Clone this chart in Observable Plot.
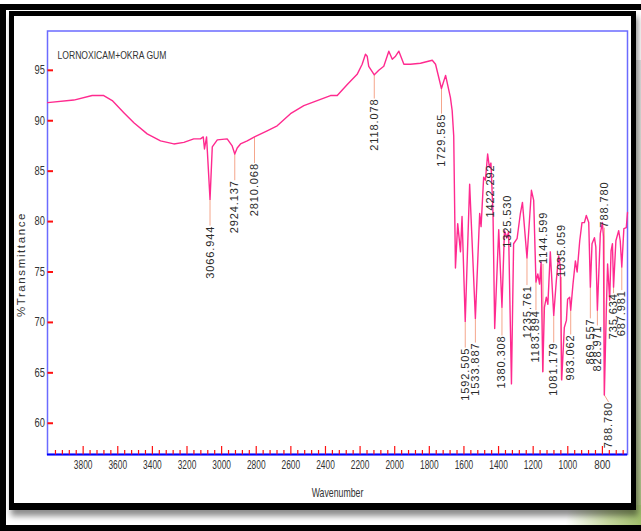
<!DOCTYPE html>
<html><head><meta charset="utf-8">
<script src="https://cdn.jsdelivr.net/npm/d3@7"></script>
<script src="https://cdn.jsdelivr.net/npm/@observablehq/plot@0.6"></script>
<style>
html,body{margin:0;padding:0;background:#fff;}
body{width:641px;height:531px;position:relative;overflow:hidden;}
#chart{position:absolute;left:0;top:0;}
.deco{position:absolute;pointer-events:none;}
</style></head><body>
<div id="chart"></div>
<div class="deco" style="left:636px;top:60px;width:5px;height:465px;background:linear-gradient(#e4e4e4,#c9d2b8 70%,#a9c07a);"></div>
<div class="deco" style="left:560px;top:505px;width:81px;height:20px;background:linear-gradient(100deg,rgba(255,255,255,0) 10%,#c7d9a0 60%,#9fbd6a);"></div>
<div class="deco" style="left:0;top:4px;width:641px;height:6px;background:#000"></div>
<div class="deco" style="left:0;top:4px;width:6px;height:527px;background:#000"></div>
<div class="deco" style="left:0;top:525px;width:641px;height:6px;background:#000"></div>
<div class="deco" style="left:9px;top:11px;width:627px;height:499px;box-sizing:border-box;border:5px solid #000;border-bottom-width:7px;box-shadow:2px 6px 6px rgba(0,0,0,0.45);"></div>
<script>
// ---- spectrum (wavenumber cm-1, %T) ----
const wavenumber = [
  4005, 3854, 3748, 3681, 3632, 3565, 3507, 3430, 3353, 3276, 3218, 3161, 3122, 3106, 3099, 3087,
  3067, 3054, 3025, 2968, 2939, 2924, 2910, 2891, 2852, 2810, 2737, 2679, 2602, 2525, 2448, 2371,
  2332, 2274, 2217, 2188, 2169, 2159, 2150, 2118, 2092, 2063, 2034, 2014, 1995, 1976, 1947, 1909,
  1851, 1783, 1764, 1730, 1706,
  1678, 1668, 1659, 1649, 1636, 1620, 1611, 1592.5, 1567, 1533.9, 1509, 1501, 1486, 1476, 1463, 1453,
  1444, 1432, 1422.3, 1399, 1380.3, 1366, 1351, 1342, 1325.5, 1313, 1293, 1274, 1262, 1235.8, 1210, 1197,
  1183.9, 1173, 1163, 1154, 1144.6, 1135, 1124, 1115, 1101, 1081.2, 1066, 1053, 1043, 1035.1, 1020, 1008,
  1001, 989, 983.1, 970, 956, 946, 931, 918, 904, 893, 879, 869.6, 860, 846, 838, 829.0,
  812, 800, 794, 788.8, 777, 770, 758, 750, 742, 735.6, 722, 706, 697, 688.0, 676, 662, 655
];
const transmittance = [
  91.8, 92.05, 92.5, 92.5, 92.0, 90.8, 89.8, 88.7, 88.0, 87.7, 87.85, 88.2, 88.2, 88.4, 87.2, 88.4,
  82.2, 87.4, 88.1, 88.2, 87.5, 86.7, 87.3, 87.7, 88.0, 88.4, 89.0, 89.5, 90.7, 91.5, 92.0, 92.5,
  92.5, 93.6, 94.6, 95.6, 96.6, 96.4, 95.4, 94.55, 95.0, 95.4, 96.9, 96.1, 96.4, 96.9, 95.6, 95.6,
  95.7, 96.0, 95.6, 93.2, 94.5,
  92.3, 91.0, 88.5, 75.4, 79.8, 77.0, 80.5, 70.1, 83.7, 70.4, 80.8, 79.5, 84.4, 84.1, 86.7, 85.4,
  85.8, 80.8, 69.4, 79.2, 71.5, 79.1, 78.4, 79.0, 63.9, 77.8, 78.3, 80.8, 81.9, 76.4, 83.1, 82.1,
  74.0, 74.8, 73.8, 76.0, 65.1, 71.5, 72.5, 71.8, 77.0, 70.7, 74.2, 76.6, 75.5, 64.3, 69.5, 70.2,
  72.3, 72.5, 71.2, 73.8, 76.1, 75.0, 78.1, 79.9, 79.9, 80.6, 79.9, 73.5, 77.8, 78.4, 77.5, 71.2,
  78.8, 79.9, 78.5, 62.8, 71.5, 75.8, 72.2, 77.1, 77.8, 73.5, 78.1, 79.1, 78.1, 75.5, 79.3, 79.4, 80.9
];

// ---- peak labels written below their peak ----
const belowText   = ["3066.944","2924.137","2810.068","2118.078","1729.585","1592.505","1533.887","1380.308","1235.761","1183.894","1081.179","983.062","869.557","828.971","735.634","687.981","788.780"];
const belowLineWn = [3067, 2924, 2810, 2118, 1729.6, 1592.5, 1533.9, 1380.3, 1235.8, 1183.9, 1081.2, 983.1, 869.6, 829.0, 735.6, 688.0, 788.8];
const belowTextWn = [3067, 2924, 2810, 2118, 1729.6, 1592.5, 1533.9, 1380.3, 1235.8, 1183.9, 1081.2, 983.1, 869.6, 829.0, 735.6, 688.0, 764];
const belowPeakT  = [82.2, 86.7, 88.4, 94.55, 93.2, 70.1, 70.4, 71.5, 76.4, 74.0, 70.7, 71.2, 73.5, 71.2, 73.5, 75.5, 62.8];
const belowLabelT = [79.6, 84.1, 85.8, 92.2, 90.7, 67.5, 68.0, 68.7, 73.7, 71.2, 68.0, 68.8, 70.4, 69.7, 72.9, 73.2, 62.1];

// ---- peak labels written above ----
const aboveText   = ["1422.292","1325.530","1144.599","1035.059","788.780"];
const aboveWn     = [1446, 1348, 1143, 1038, 789];
const aboveLabelT = [80.4, 77.4, 75.8, 74.5, 79.4];
const abovePeakT  = [null, null, 65.1, 64.3, 62.8];

// ---- axes ----
const xDomain = [4006, 655];
const yDomain = [56.9, 98.9];
const xTickLabels = [3800, 3600, 3400, 3200, 3000, 2800, 2600, 2400, 2200, 2000, 1800, 1600, 1400, 1200, 1000, 800];
const xMinorTicks = d3.range(680, 4000, 40).filter(v => v % 200 !== 0);
const yTickLabels = [60, 65, 70, 75, 80, 85, 90, 95];

const spectrum = wavenumber.map((w, i) => ({w, t: transmittance[i]}));
const below = belowText.map((s, i) => ({s, lw: belowLineWn[i], tw: belowTextWn[i], p: belowPeakT[i], l: belowLabelT[i]}));
const above = aboveText.map((s, i) => ({s, w: aboveWn[i], l: aboveLabelT[i], p: abovePeakT[i]}));

const tickUp = len => ({draw(ctx){ ctx.moveTo(0, 0); ctx.lineTo(0, -len); }});
const tickRight = len => ({draw(ctx){ ctx.moveTo(0, 0); ctx.lineTo(len, 0); }});

const regular = "'Liberation Sans',Arial,sans-serif";
const red = "#ff1010";
const salmon = "#f5a68c";
const pink = "#ff2a8f";

const chart = Plot.plot({
  width: 641,
  height: 531,
  marginLeft: 47,
  marginRight: 14,
  marginTop: 30.5,
  marginBottom: 77,
  style: {fontFamily: regular, fontSize: "12px", color: "#333", background: "transparent"},
  x: {domain: xDomain, label: null},
  y: {domain: yDomain, label: null},
  marks: [
    Plot.frame({stroke: "#6b6bff", strokeWidth: 1.5}),
    Plot.ruleY([yDomain[0]], {stroke: "#0000ff", strokeWidth: 2}),
    Plot.dot(xMinorTicks, {x: d => d, y: yDomain[0], symbol: tickUp(4.5), fill: "none", stroke: red, strokeWidth: 1.2}),
    Plot.dot(xTickLabels, {x: d => d, y: yDomain[0], symbol: tickUp(8.5), fill: "none", stroke: red, strokeWidth: 1.2}),
    Plot.dot(yTickLabels, {x: xDomain[0], y: d => d, symbol: tickRight(5.5), fill: "none", stroke: red, strokeWidth: 2}),
    Plot.axisX({ticks: xTickLabels, tickSize: 0, tickPadding: 6, fontFamily: regular, fontSize: 12.5, fill: "#333", label: null, tickFormat: d => String(d)}),
    Plot.axisY({ticks: yTickLabels, tickSize: 0, tickPadding: 2.5, fontFamily: regular, fontSize: 12, fill: "#333", label: null}),
    Plot.link(below, {x1: "lw", y1: "p", x2: "tw", y2: "l", stroke: salmon, strokeWidth: 1}),
    Plot.link(above.filter(d => d.p != null), {x1: "w", y1: "p", x2: "w", y2: "l", stroke: salmon, strokeWidth: 1}),
    Plot.line(spectrum, {x: "w", y: "t", stroke: pink, strokeWidth: 1.4}),
    Plot.text(below, {x: "tw", y: "l", text: "s", rotate: -90, textAnchor: "end", lineAnchor: "middle", fontFamily: regular, fontSize: 11, fill: "#2a2a2a"}),
    Plot.text(above, {x: "w", y: "l", text: "s", rotate: -90, textAnchor: "start", lineAnchor: "middle", fontFamily: regular, fontSize: 11, fill: "#2a2a2a"}),
    Plot.text(["LORNOXICAM+OKRA GUM"], {frameAnchor: "top-left", dx: 10, dy: 20, textAnchor: "start", lineAnchor: "top", fontFamily: regular, fontSize: 11, fill: "#333"}),
    Plot.text(["Wavenumber"], {frameAnchor: "bottom", dy: 38, textAnchor: "middle", lineAnchor: "middle", fontFamily: regular, fontSize: 12.5, fill: "#333"}),
    Plot.text(["%Transmittance"], {frameAnchor: "left", dx: -26.5, dy: 21.8, rotate: -90, textAnchor: "middle", lineAnchor: "middle", fontFamily: regular, fontSize: 11.5, fill: "#333"})
  ]
});
document.getElementById("chart").appendChild(chart);

// condensed look of the original print: squeeze some texts horizontally about their anchor
function squeeze(el, s) {
  const tr = el.getAttribute("transform");
  if (tr) el.setAttribute("transform", tr + ` scale(${s},1)`);
  else {
    const x = +(el.getAttribute("x") || 0);
    el.setAttribute("transform", `translate(${x},0) scale(${s},1) translate(${-x},0)`);
  }
}
const peakNames = new Set([...belowText, ...aboveText]);
const tickNames = new Set([...xTickLabels, ...yTickLabels].map(String));
d3.select(chart).selectAll("text").each(function () {
  const t = this.textContent;
  if (peakNames.has(t)) this.style.letterSpacing = "0.9px";
  else if (t === "%Transmittance") this.style.letterSpacing = "1.6px";
  else if (t === "Wavenumber") squeeze(this, 0.7);
  else if (t === "LORNOXICAM+OKRA GUM") squeeze(this, 0.78);
  else if (tickNames.has(t)) squeeze(this, xTickLabels.includes(+t) && t.length === 4 ? 0.67 : 0.78);
});
</script>
</body></html>
